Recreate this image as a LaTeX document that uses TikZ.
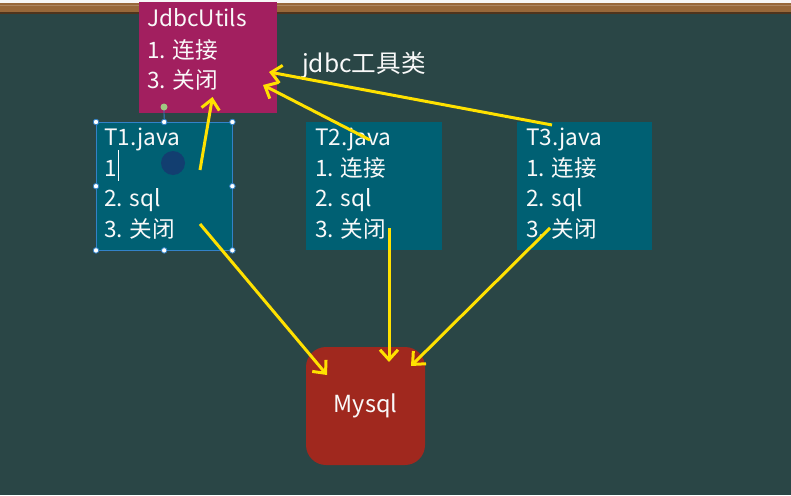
\documentclass[tikz,border=0pt]{standalone}
\usepackage{fontspec}
\setmainfont{Noto Sans CJK SC}
\usetikzlibrary{arrows.meta}
\definecolor{board}{RGB}{42,70,70}
\definecolor{wood}{RGB}{152,104,58}
\definecolor{wooddark}{RGB}{80,52,28}
\definecolor{utilsfill}{RGB}{162,31,95}
\definecolor{javafill}{RGB}{0,96,115}
\definecolor{mysqlfill}{RGB}{160,40,30}
\definecolor{arrowyellow}{RGB}{255,225,0}
\definecolor{selblue}{RGB}{50,130,200}
\definecolor{cursorblue}{RGB}{18,62,112}
\definecolor{rotgreen}{RGB}{160,200,130}
\tikzset{
  boxnode/.style={draw=none, anchor=north west, inner sep=0pt, minimum width=#1},
  boxnode/.default=136pt,
  txt/.style={anchor=base west, inner sep=0pt, text=white!95!gray, font=\fontsize{22.6pt}{30pt}\selectfont},
  yarrow/.style={draw=arrowyellow, line width=3pt, -{Straight Barb[length=10pt,width=18pt,line width=3pt]}},
  handle/.style={circle, fill=white, draw=selblue, line width=0.8pt, inner sep=0pt, minimum size=5.5pt},
}
\begin{document}
\begin{tikzpicture}[x=1pt,y=-1pt]
\useasboundingbox (0,0) rectangle (791,495);
% background board and frame
\fill[board] (0,0) rectangle (791,495);
\fill[white!94!gray] (0,0) rectangle (791,3);
\fill[wood] (0,3) rectangle (791,12);
\fill[wood!80!white] (0,5) rectangle (791,6.5);
\fill[wooddark] (0,12) rectangle (791,14);

% JdbcUtils box
\node[boxnode=138pt, fill=utilsfill, minimum height=111pt] (utils) at (139,2) {};
\node[txt] (u1) at (147,27) {JdbcUtils};
\node[txt] (u2) at (147,58) {1. 连接};
\node[txt] (u3) at (147,88) {3. 关闭};
\node[txt, font=\fontsize{24.6pt}{30pt}\selectfont] (label) at (302,72) {jdbc工具类};

% T boxes
\node[boxnode=136pt, fill=javafill, minimum height=128pt] (t1) at (96,122) {};
\node[boxnode=136pt, fill=javafill, minimum height=128pt] (t2) at (306,122) {};
\node[boxnode=135pt, fill=javafill, minimum height=128pt] (t3) at (517,122) {};

% T1 selection decorations
\fill[cursorblue] (173,163) circle (12pt);
\draw[selblue, line width=0.8pt] (t1.north west) rectangle (t1.south east);
\draw[selblue, line width=0.8pt] (t1.north) -- (164,107);
\node[circle, fill=rotgreen, inner sep=0pt, minimum size=7pt] (rot) at (164,107) {};
\foreach \a in {north west,north,north east,west,east,south west,south,south east}
  \node[handle] at (t1.\a) {};

\node[txt] (a1) at (104,145) {T1.java};
\node[txt] (a2) at (104,176) {1};
\draw[white, line width=0.9pt] (118,150) -- (118,181);
\node[txt] (a3) at (104,206) {2. sql};
\node[txt] (a4) at (104,237) {3. 关闭};

\node[txt] (b1) at (315,145) {T2.java};
\node[txt] (b2) at (315,176) {1. 连接};
\node[txt] (b3) at (315,206) {2. sql};
\node[txt] (b4) at (315,237) {3. 关闭};

\node[txt] (c1) at (526,145) {T3.java};
\node[txt] (c2) at (526,176) {1. 连接};
\node[txt] (c3) at (526,206) {2. sql};
\node[txt] (c4) at (526,237) {3. 关闭};

% Mysql box
\node[fill=mysqlfill, rounded corners=20pt, minimum width=119pt, minimum height=118pt, inner sep=0pt, text=white!95!gray, font=\fontsize{23.5pt}{26pt}\selectfont] (mysql) at (365.5,406) {Mysql};

% connector end points
\coordinate (s1) at (200,170);
\coordinate (e1) at (212.5,97);
\coordinate (s2) at (370,140);
\coordinate (e2) at (263,85);
\coordinate (s3) at (552,125);
\coordinate (e3) at (269,72);
\coordinate (s4) at (200,224);
\coordinate (e4) at (327,375);
\coordinate (s5) at (389,228);
\coordinate (e5) at (389,362);
\coordinate (s6) at (550,228);
\coordinate (e6) at (411,366);

\draw[yarrow] (s1) -- (e1);
\draw[yarrow] (s2) -- (e2);
\draw[yarrow] (s3) -- (e3);
\draw[yarrow] (s4) -- (e4);
\draw[yarrow] (s5) -- (e5);
\draw[yarrow] (s6) -- (e6);
\end{tikzpicture}
\end{document}
